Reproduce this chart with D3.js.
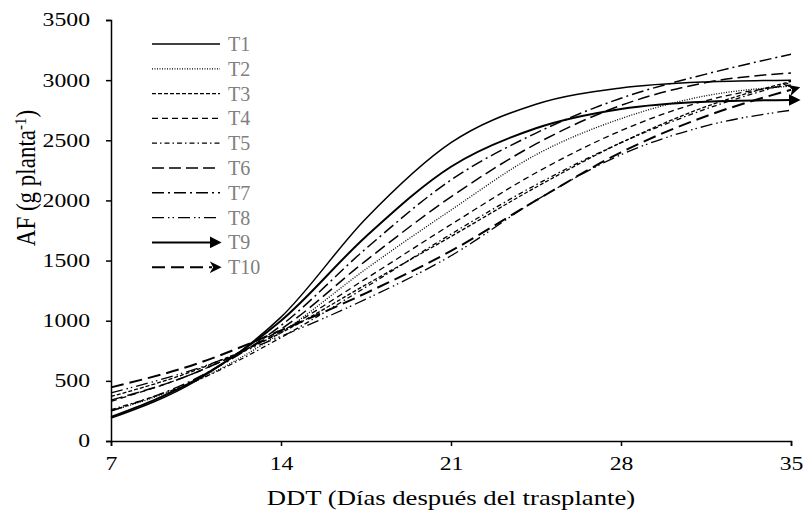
<!DOCTYPE html>
<html>
<head>
<meta charset="utf-8">
<script src="https://cdn.jsdelivr.net/npm/d3@7"></script>
<style>
  body { margin: 0; background: #fff; }
  svg text { font-family: "Liberation Serif", "Times New Roman", serif; }
</style>
</head>
<body>
<div id="chart"></div>
<script>
// days after transplant where the curves were read
var days = [7, 10.5, 14, 17.5, 21, 24.5, 28, 31.5, 35];

// AF (g planta-1) per treatment
var t1  = [190, 500, 1030, 1850, 2480, 2800, 2935, 2985, 3000];
var t2  = [250, 500, 900, 1430, 1920, 2380, 2680, 2870, 2950];
var t3  = [370, 590, 900, 1300, 1700, 2110, 2480, 2780, 2990];
var t4  = [330, 570, 910, 1350, 1800, 2230, 2580, 2830, 2960];
var t5  = [260, 500, 860, 1280, 1720, 2130, 2480, 2760, 2980];
var t6  = [340, 570, 930, 1500, 2030, 2470, 2790, 2980, 3060];
var t7  = [250, 520, 960, 1600, 2170, 2560, 2850, 3050, 3215];
var t8  = [400, 600, 870, 1180, 1540, 2000, 2380, 2620, 2750];
var t9  = [200, 510, 1000, 1700, 2280, 2600, 2760, 2820, 2835];
var t10 = [446, 640, 920, 1230, 1580, 2000, 2400, 2700, 2920];

var names = ['T1', 'T2', 'T3', 'T4', 'T5', 'T6', 'T7', 'T8', 'T9', 'T10'];
var xTicks = [7, 14, 21, 28, 35];
var yTicks = [0, 500, 1000, 1500, 2000, 2500, 3000, 3500];

// line styles for each treatment
var styles = [
  {dash: null, w: 1.5},
  {dash: '1,1.5', w: 1.3},
  {dash: '4,2', w: 1.3},
  {dash: '6,4', w: 1.3},
  {dash: '5,3,1.5,3', w: 1.3},
  {dash: '12,5', w: 1.5},
  {dash: '12,4,2,4', w: 1.5},
  {dash: '12,4,1.5,3,1.5,4', w: 1.3},
  {dash: null, w: 2, arrow: 'tri'},
  {dash: '13,6', w: 2, arrow: 'stealth'}
];

var series = [t1, t2, t3, t4, t5, t6, t7, t8, t9, t10].map(function(v, i) {
  return {name: names[i], style: styles[i], values: v.map(function(y, j) { return {x: days[j], y: y}; })};
});

var width = 804, height = 526;
var mLeft = 111, mRight = 791, mTop = 20, mBottom = 441;
var stretch = 1.27; // the original text is drawn wider than it is tall

var svg = d3.select('#chart').append('svg')
  .attr('width', width).attr('height', height);

var defs = svg.append('defs');
defs.append('marker').attr('id', 'tri')
  .attr('viewBox', '0 0 10 10').attr('refX', 2).attr('refY', 5)
  .attr('markerWidth', 6).attr('markerHeight', 6)
  .attr('markerUnits', 'strokeWidth').attr('orient', 'auto')
  .append('path').attr('d', 'M0,0 L10,5 L0,10 Z').attr('fill', '#000');
defs.append('marker').attr('id', 'stealth')
  .attr('viewBox', '0 0 10 10').attr('refX', 2).attr('refY', 5)
  .attr('markerWidth', 6).attr('markerHeight', 6)
  .attr('markerUnits', 'strokeWidth').attr('orient', 'auto')
  .append('path').attr('d', 'M0,0 L10,5 L0,10 L3,5 Z').attr('fill', '#000');

var x = d3.scaleLinear().domain([7, 35]).range([mLeft, mRight]);
var y = d3.scaleLinear().domain([0, 3500]).range([mBottom, mTop]);

// axes
var xAxis = svg.append('g').attr('transform', 'translate(0,' + mBottom + ')')
  .call(d3.axisBottom(x).tickValues(xTicks).tickFormat(d3.format('d')).tickSize(5).tickPadding(11));
var yAxis = svg.append('g').attr('transform', 'translate(' + mLeft + ',0)')
  .call(d3.axisLeft(y).tickValues(yTicks).tickFormat(d3.format('d')).tickSize(5).tickPadding(15));

[xAxis, yAxis].forEach(function(g) {
  g.select('.domain').attr('stroke', '#000').attr('stroke-width', 1.5);
  g.selectAll('.tick line').attr('stroke', '#000').attr('stroke-width', 1.5);
  g.selectAll('.tick text').attr('fill', '#000')
    .style('font-family', '"Liberation Serif", serif').style('font-size', '18.7px');
});
xAxis.selectAll('.tick text').attr('transform', 'scale(' + stretch + ',1)');
yAxis.selectAll('.tick text').attr('x', -21 / stretch).attr('transform', 'scale(' + stretch + ',1)');

// curves
var line = d3.line().x(function(d) { return x(d.x); }).y(function(d) { return y(d.y); })
  .curve(d3.curveMonotoneX);

svg.append('g').selectAll('path').data(series).enter().append('path')
  .attr('d', function(d) { return line(d.values); })
  .attr('fill', 'none').attr('stroke', '#000')
  .attr('stroke-width', function(d) { return d.style.w; })
  .attr('stroke-dasharray', function(d) { return d.style.dash; })
  .attr('marker-end', function(d) { return d.style.arrow ? 'url(#' + d.style.arrow + ')' : null; });

// axis titles
svg.append('text')
  .attr('transform', 'translate(' + ((mLeft + mRight) / 2) + ',505) scale(' + stretch + ',1)')
  .attr('text-anchor', 'middle').attr('fill', '#000').style('font-size', '21px')
  .text('DDT (Días después del trasplante)');

var yt = svg.append('text')
  .attr('transform', 'translate(35,178) scale(1.15,1) rotate(-90)')
  .attr('text-anchor', 'middle').attr('fill', '#000').style('font-size', '23px');
yt.append('tspan').text('AF (g planta');
yt.append('tspan').attr('dy', -8).style('font-size', '15px').text('-1');
yt.append('tspan').attr('dy', 8).text(')');

// legend
var legend = svg.append('g').selectAll('g').data(series).enter().append('g')
  .attr('transform', function(d, i) { return 'translate(152,' + (44 + i * 24.8) + ')'; });

legend.append('line').attr('x1', 0).attr('x2', function(d) { return d.style.arrow ? 60 : 68; })
  .attr('y1', 0).attr('y2', 0)
  .attr('stroke', '#000')
  .attr('stroke-width', function(d) { return d.style.w; })
  .attr('stroke-dasharray', function(d) { return d.style.dash; })
  .attr('marker-end', function(d) { return d.style.arrow ? 'url(#' + d.style.arrow + ')' : null; });

legend.append('text').attr('x', 76).attr('y', 7)
  .attr('fill', '#808080').style('font-size', '20px')
  .text(function(d) { return d.name; });
</script>
</body>
</html>
